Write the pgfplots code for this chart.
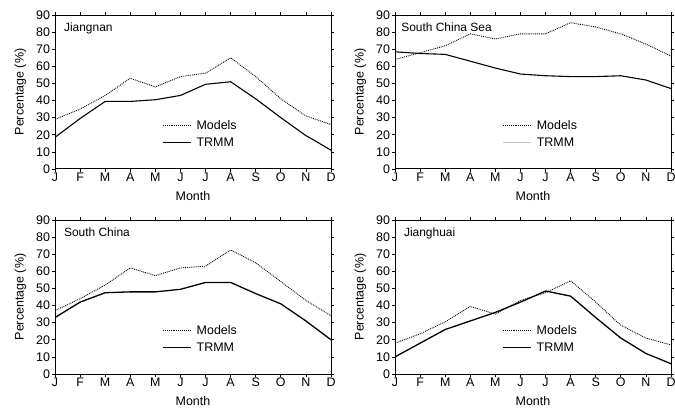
\documentclass[border=0pt]{standalone}
\usepackage{pgfplots}
\pgfplotsset{compat=1.18}
\usepackage{fontspec}
\setmainfont{Liberation Sans}
\setsansfont{Liberation Sans}
\begin{document}
\begin{tikzpicture}
\useasboundingbox (0,0) rectangle (675bp,410bp);
\pgfplotsset{
  panel/.style={
    scale only axis, width=276bp, height=154bp, anchor=south west,
    xmin=0, xmax=11, ymin=0, ymax=90,
    xtick={0,...,11}, xticklabels={J,F,M,A,M,J,J,A,S,O,N,D},
    ytick={0,10,...,90},
    tick align=outside, major tick length=3bp,
    tick style={black, line width=0.7pt},
    axis line style={line width=1pt},
    font=\fontsize{12}{14}\selectfont,
    tick label style={font=\fontsize{12.5}{14}\selectfont},
    xticklabel style={yshift=2.5bp},
    yticklabel style={xshift=1.5bp},
    /pgf/number format/assume math mode=true,
    xlabel={Month}, ylabel={Percentage (\%)},
    label style={font=\fontsize{12.5}{14}\selectfont},
    xlabel style={yshift=-2.5bp},
    ylabel style={yshift=3bp},
    legend style={draw=none, fill=none, at={(0.385,0.335)}, anchor=north west,
      font=\fontsize{12.5}{14}\selectfont, row sep=2.5pt, inner sep=1pt},
    legend cell align=left,
    legend image code/.code={\draw[##1] (0bp,0bp) -- (28bp,0bp); \path (31bp,0bp);},
  },
  models/.style={black, densely dotted, line width=0.9pt},
  trmm/.style={black, line width=1.1pt},
}
% Jiangnan
\begin{axis}[panel, at={(55bp,241bp)}]
\addplot[models] coordinates {(0,29) (1,35) (2,43) (3,53) (4,48) (5,54) (6,56) (7,65) (8,54) (9,41) (10,31) (11,26)};
\addplot[trmm] coordinates {(0,18.5) (1,29.5) (2,39.5) (3,39.5) (4,40.5) (5,43) (6,49.5) (7,51) (8,41) (9,30) (10,19.5) (10.3,17) (11,11)};
\legend{Models,TRMM}
\node[anchor=north west, font=\fontsize{12}{14}\selectfont] at (rel axis cs:0.02,0.975) {Jiangnan};
\end{axis}
% South China Sea
\begin{axis}[panel, at={(395bp,241bp)}]
\addplot[models, forget plot] coordinates {(0,64) (1,68) (2,72) (3,79) (4,76) (5,79) (6,79) (7,85.5) (8,83) (9,79) (10,73) (11,66)};
\addplot[trmm, forget plot] coordinates {(0,68.5) (1,67.5) (2,67) (3,63) (4,59) (5,55.5) (6,54.5) (7,54) (8,54) (9,54.5) (10,52) (11,47)};
\addlegendimage{black, densely dotted, line width=0.9pt}
\addlegendimage{gray!45, line width=1.4pt}
\legend{Models,TRMM}
\node[anchor=north west, font=\fontsize{12}{14}\selectfont] at (rel axis cs:0.01,0.975) {South China Sea};
\end{axis}
% South China
\begin{axis}[panel, at={(55bp,36bp)}]
\addplot[models] coordinates {(0,37) (1,44) (2,52) (3,62) (4,57.5) (5,62) (6,63) (7,72.5) (8,65) (9,54) (10,43) (11,34)};
\addplot[trmm, line width=1.3pt] coordinates {(0,33) (1,42) (2,47.5) (3,48) (4,48) (5,49.5) (6,53.5) (7,53.5) (8,47) (9,41) (10,31) (11,20)};
\legend{Models,TRMM}
\node[anchor=north west, font=\fontsize{12}{14}\selectfont] at (rel axis cs:0.02,0.975) {South China};
\end{axis}
% Jianghuai
\begin{axis}[panel, at={(395bp,36bp)}]
\addplot[models] coordinates {(0,18) (1,23.5) (2,30.5) (3,39.5) (4,35) (5,43) (6,47.5) (7,54.5) (8,42) (9,28.5) (10,21) (11,17)};
\addplot[trmm, line width=1.3pt] coordinates {(0,10) (1,18) (2,26) (3,31) (4,36) (5,42) (6,48.5) (7,45.5) (8,33) (9,21) (10,12) (11,6)};
\legend{Models,TRMM}
\node[anchor=north west, font=\fontsize{12}{14}\selectfont] at (rel axis cs:0.02,0.975) {Jianghuai};
\end{axis}
\end{tikzpicture}
\end{document}
